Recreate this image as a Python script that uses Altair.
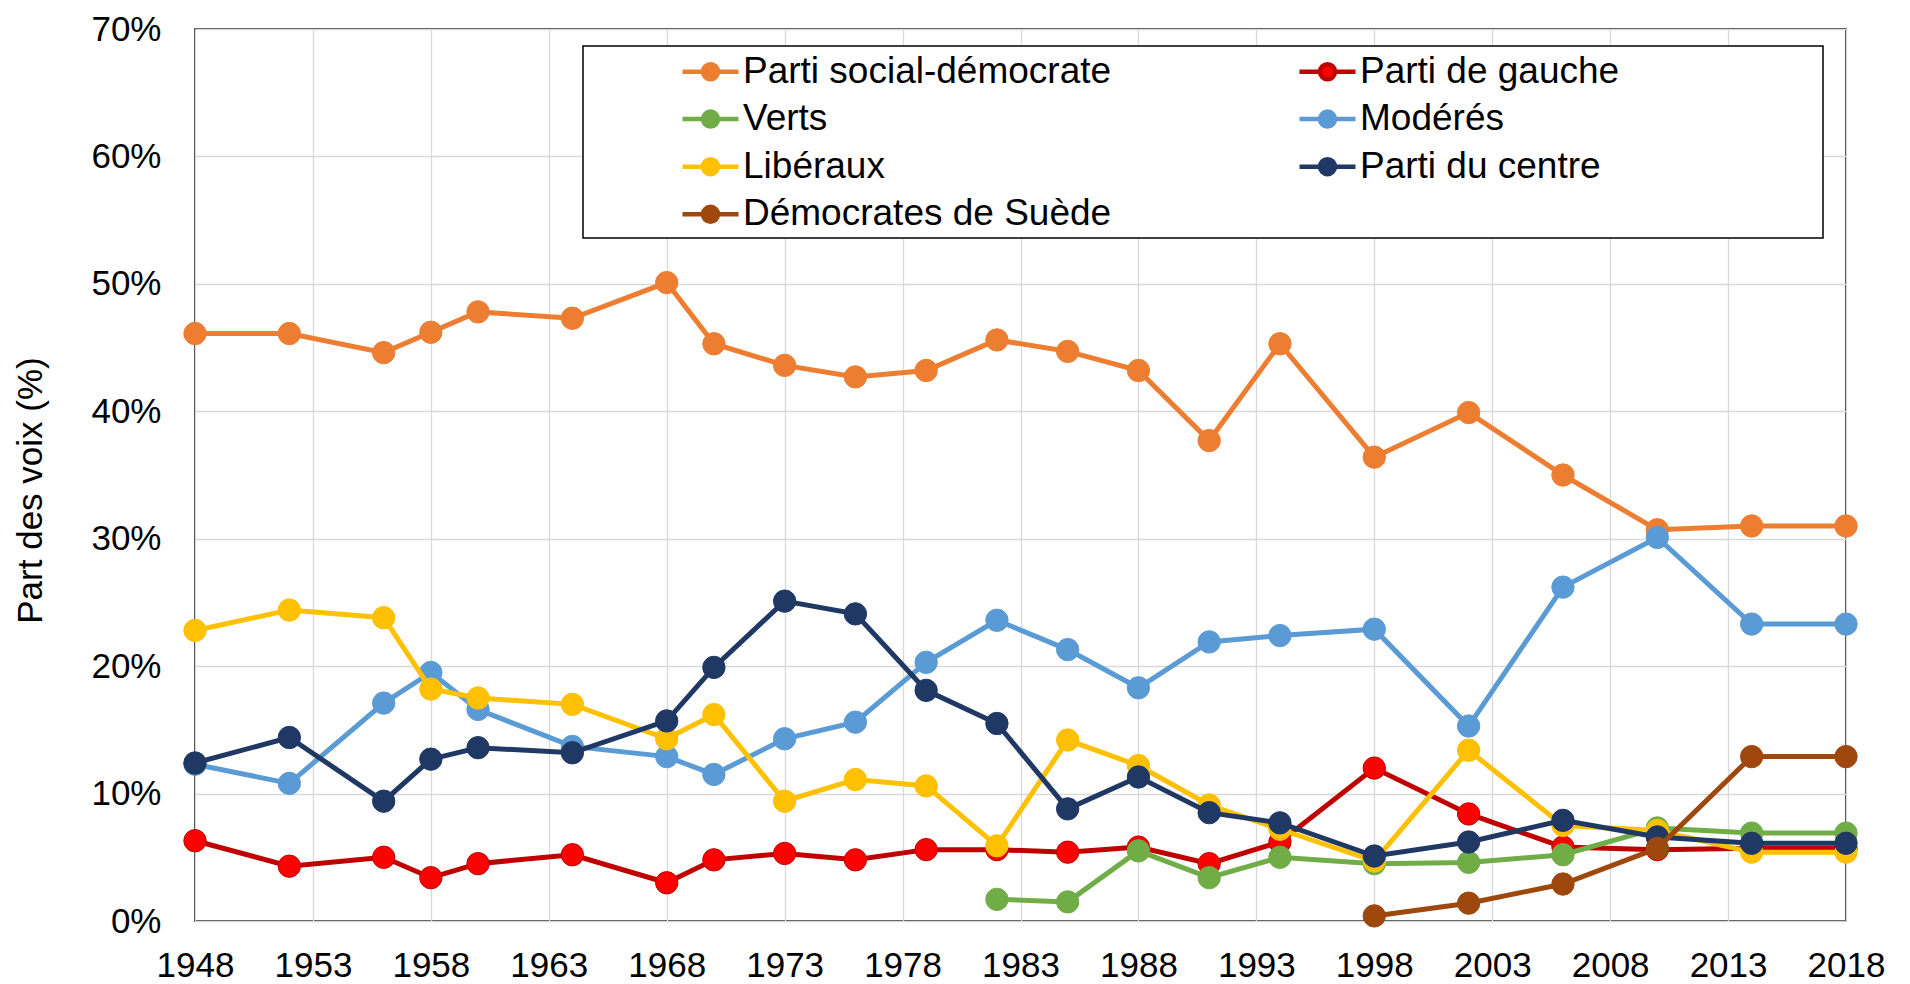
import altair as alt
import pandas as pd

FONT = "Liberation Sans, Arial, sans-serif"

years = [1948, 1952, 1956, 1958, 1960, 1964, 1968, 1970, 1973, 1976, 1979,
         1982, 1985, 1988, 1991, 1994, 1998, 2002, 2006, 2010, 2014, 2018]

parties = ["Parti social-démocrate", "Parti de gauche", "Verts", "Modérés",
           "Libéraux", "Parti du centre", "Démocrates de Suède"]

social_dem = [46.1, 46.1, 44.6, 46.2, 47.8, 47.3, 50.1, 45.3, 43.6, 42.7, 43.2,
              45.6, 44.7, 43.2, 37.7, 45.3, 36.4, 39.9, 35.0, 30.7, 31.0, 31.0]
gauche = [6.3, 4.3, 5.0, 3.4, 4.5, 5.2, 3.0, 4.8, 5.3, 4.8, 5.6,
          5.6, 5.4, 5.8, 4.5, 6.2, 12.0, 8.4, 5.8, 5.6, 5.7, 5.7]
verts = [None, None, None, None, None, None, None, None, None, None, None,
         1.7, 1.5, 5.5, 3.4, 5.0, 4.5, 4.6, 5.2, 7.3, 6.9, 6.9]
moderes = [12.3, 10.8, 17.1, 19.5, 16.6, 13.7, 12.9, 11.5, 14.3, 15.6, 20.3,
           23.6, 21.3, 18.3, 21.9, 22.4, 22.9, 15.3, 26.2, 30.1, 23.3, 23.3]
liberaux = [22.8, 24.4, 23.8, 18.2, 17.5, 17.0, 14.3, 16.2, 9.4, 11.1, 10.6,
            5.9, 14.2, 12.2, 9.1, 7.2, 4.7, 13.4, 7.5, 7.1, 5.4, 5.4]
centre = [12.4, 14.4, 9.4, 12.7, 13.6, 13.2, 15.7, 19.9, 25.1, 24.1, 18.1,
          15.5, 8.8, 11.3, 8.5, 7.7, 5.1, 6.2, 7.9, 6.6, 6.1, 6.1]
sd = [None, None, None, None, None, None, None, None, None, None, None,
      None, None, None, None, None, 0.4, 1.4, 2.9, 5.7, 12.9, 12.9]

series = [social_dem, gauche, verts, moderes, liberaux, centre, sd]

line_colors = ["#ED7D31", "#C00000", "#70AD47", "#5B9BD5", "#FFC000", "#203864", "#9E480E"]
fill_colors = ["#ED7D31", "#FF0000", "#70AD47", "#5B9BD5", "#FFC000", "#203864", "#9E480E"]

# legend is filled column by column: this order gives the reference's two columns
legend_order = ["Parti social-démocrate", "Verts", "Libéraux", "Démocrates de Suède",
                "Parti de gauche", "Modérés", "Parti du centre"]

x_ticks = [1948, 1953, 1958, 1963, 1968, 1973, 1978, 1983, 1988, 1993, 1998, 2003, 2008, 2013, 2018]
y_ticks = [0, 10, 20, 30, 40, 50, 60, 70]

rows = []
for party, vals in zip(parties, series):
    for yr, v in zip(years, vals):
        if v is not None:
            rows.append({"Party": party, "Year": yr, "Value": v})
df = pd.DataFrame(rows)

line_map = dict(zip(parties, line_colors))
fill_map = dict(zip(parties, fill_colors))

W, H = 1651, 892

legend_path = ("M-1.867,0L-0.5,0M0.5,0L1.867,0"
               "M-0.5,0A0.5,0.5,0,1,1,0.5,0A0.5,0.5,0,1,1,-0.5,0Z")

leg = alt.Legend(
    title=None, orient="none", legendX=497, legendY=24, columns=2,
    symbolType=legend_path, symbolSize=900, symbolStrokeWidth=4.5,
    symbolOpacity=1, labelFontSize=37, labelFont=FONT, labelColor="black",
    labelLimit=700, labelOffset=14, rowPadding=9.6, columnPadding=178,
    padding=0,
)

x_enc = alt.X("Year:Q", scale=alt.Scale(domain=[1948, 2018], nice=False, zero=False),
              axis=alt.Axis(values=x_ticks, format="d", title=None, labelPadding=27,
                            ticks=False, domain=False, grid=True, labelFlush=False,
                            labelOverlap=False, labelBound=False))
y_enc = alt.Y("Value:Q", scale=alt.Scale(domain=[0, 70], nice=False),
              axis=alt.Axis(values=y_ticks, labelExpr="datum.value + '%'",
                            title="Part des voix (%)", labelPadding=34, ticks=False,
                            domain=False, grid=True, titleAngle=270, titleAlign="center",
                            titleBaseline="middle", titleX=-165, titleY=461,
                            labelFlush=False, labelOverlap=False))

stroke_scale = alt.Scale(domain=legend_order, range=[line_map[p] for p in legend_order])
fill_scale = alt.Scale(domain=legend_order, range=[fill_map[p] for p in legend_order])

frame = alt.Chart(alt.Data(values=[{"k": 1}])).mark_rect(
    fill="white", stroke="black", strokeWidth=1.5
).encode(x=alt.value(388), x2=alt.value(1628), y=alt.value(17), y2=alt.value(209))

layers = [frame]
for party in parties:
    base = alt.Chart(df).transform_filter(alt.datum.Party == party)
    line = base.mark_line(strokeWidth=5).encode(
        x=x_enc, y=y_enc,
        stroke=alt.Stroke("Party:N", scale=stroke_scale, legend=leg),
    )
    pts = base.mark_point(filled=True, shape="circle", size=500, strokeWidth=1, opacity=1).encode(
        x=x_enc, y=y_enc,
        stroke=alt.Stroke("Party:N", scale=stroke_scale, legend=leg),
        fill=alt.Fill("Party:N", scale=fill_scale, legend=leg),
    )
    layers += [line, pts]

chart = alt.layer(*layers).properties(
    width=W, height=H,
    autosize=alt.AutoSizeParams(type="none"),
    padding={"left": 187, "top": 21, "right": 56, "bottom": 63},
).configure_view(
    stroke="black", strokeWidth=1.5
).configure_axis(
    labelFont=FONT, labelFontSize=35, labelColor="black",
    titleFont=FONT, titleFontSize=35, titleColor="black", titleFontWeight="normal",
    gridColor="#D9D9D9", gridWidth=1.3, gridOpacity=1,
).configure_legend(
    labelFont=FONT,
)

chart.save("out.html", embed_options={"renderer": "svg", "actions": False})
